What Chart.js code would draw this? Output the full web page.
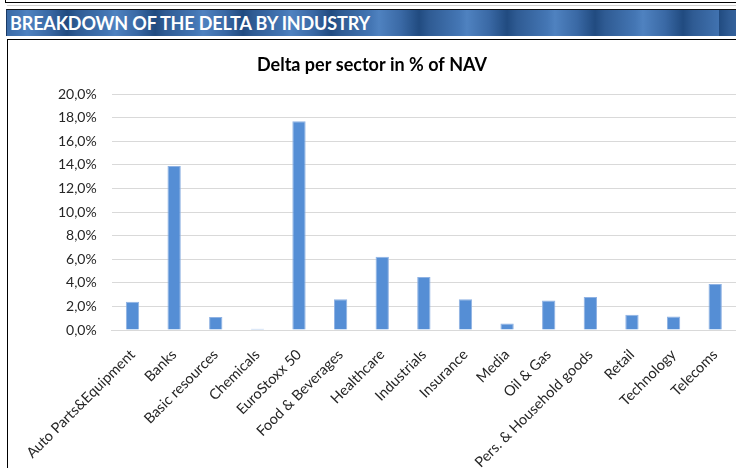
<!DOCTYPE html>
<html>
<head>
<meta charset="utf-8">
<script src="https://cdn.jsdelivr.net/npm/chart.js@4.4.1/dist/chart.umd.min.js"></script>
<style>
  html, body { margin:0; padding:0; background:#fff; width:736px; height:468px; overflow:hidden; position:relative; font-family: Lato, "Liberation Sans", sans-serif; }
  #topbox { position:absolute; left:5px; top:-10px; width:740px; height:12px; border-left:1.5px solid #000; border-bottom:1.5px solid #000; }
  #topline2 { position:absolute; left:7px; top:5px; width:740px; height:1px; background:#cfcfcf; }
  #band { position:absolute; left:6px; top:9px; width:740px; height:26px; border-top:1.5px solid #111; border-left:1.5px solid #1a3a66;
          background: repeating-linear-gradient(90deg, #214b80 0px, #2f5b93 10px, #4476b4 40px, #4f82c0 48px, #3a69a5 70px, #214b80 88px);
          background-position: -28px 0; }
  #bandtext { position:absolute; left:10px; top:10px; height:26px; line-height:26px; color:#fff; font-weight:bold; font-size:18px; letter-spacing:-0.15px; font-family: Lato, "Liberation Sans", sans-serif; }
  #chartbox { position:absolute; left:6.5px; top:38.5px; width:760px; height:460px; border:1.5px solid #000; }
  #c { position:absolute; left:8px; top:40px; }
</style>
</head>
<body>
<div id="topbox"></div>
<div id="topline2"></div>
<div id="band"></div>
<div id="bandtext">BREAKDOWN OF THE DELTA BY INDUSTRY</div>
<div id="chartbox"></div>
<canvas id="c" width="728" height="428"></canvas>
<script>
const categories = ["Auto Parts&Equipment","Banks","Basic resources","Chemicals","EuroStoxx 50","Food & Beverages","Healthcare","Industrials","Insurance","Media","Oil & Gas","Pers. & Household goods","Retail","Technology","Telecoms"];
const deltaPct = [2.4, 13.9, 1.1, 0.1, 17.7, 2.6, 6.2, 4.5, 2.6, 0.55, 2.5, 2.8, 1.3, 1.15, 3.9];
const yTicks = [0, 2, 4, 6, 8, 10, 12, 14, 16, 18, 20];
const chartTitle = "Delta per sector in % of NAV";

const fontFam = 'Lato, "Liberation Sans", sans-serif';
new Chart(document.getElementById('c'), {
  type: 'bar',
  data: {
    labels: categories,
    datasets: [{
      data: deltaPct,
      backgroundColor: '#558ED5',
      borderColor: '#8FB2E3',
      borderWidth: 1,
      categoryPercentage: 1,
      barPercentage: 0.32
    }]
  },
  options: {
    responsive: false,
    devicePixelRatio: 1,
    animation: false,
    layout: { padding: { left: 0, right: 0, top: 0, bottom: 0 } },
    plugins: {
      legend: { display: false },
      tooltip: { enabled: false },
      title: {
        display: true,
        text: chartTitle,
        color: '#000',
        font: { family: fontFam, size: 18, weight: 'bold' },
        padding: { top: 14, bottom: 18.5 }
      }
    },
    scales: {
      y: {
        min: 0, max: 20,
        afterBuildTicks: s => { s.ticks = yTicks.map(v => ({ value: v })); },
        afterFit: s => { s.width = 103.7; },
        ticks: {
          callback: v => v.toFixed(1).replace('.', ',') + '%',
          color: '#262626',
          font: { family: fontFam, size: 14 },
          padding: 15
        },
        grid: { color: '#d9d9d9', lineWidth: 1, drawTicks: false },
        border: { display: false }
      },
      x: {
        afterFit: s => { s.height = 138; },
        ticks: {
          maxRotation: 45, minRotation: 45, autoSkip: false,
          color: '#262626',
          font: { family: fontFam, size: 14.5 },
          padding: 8
        },
        grid: { display: false },
        border: { color: '#d9d9d9', width: 1 }
      }
    }
  }
});
</script>
</body>
</html>
